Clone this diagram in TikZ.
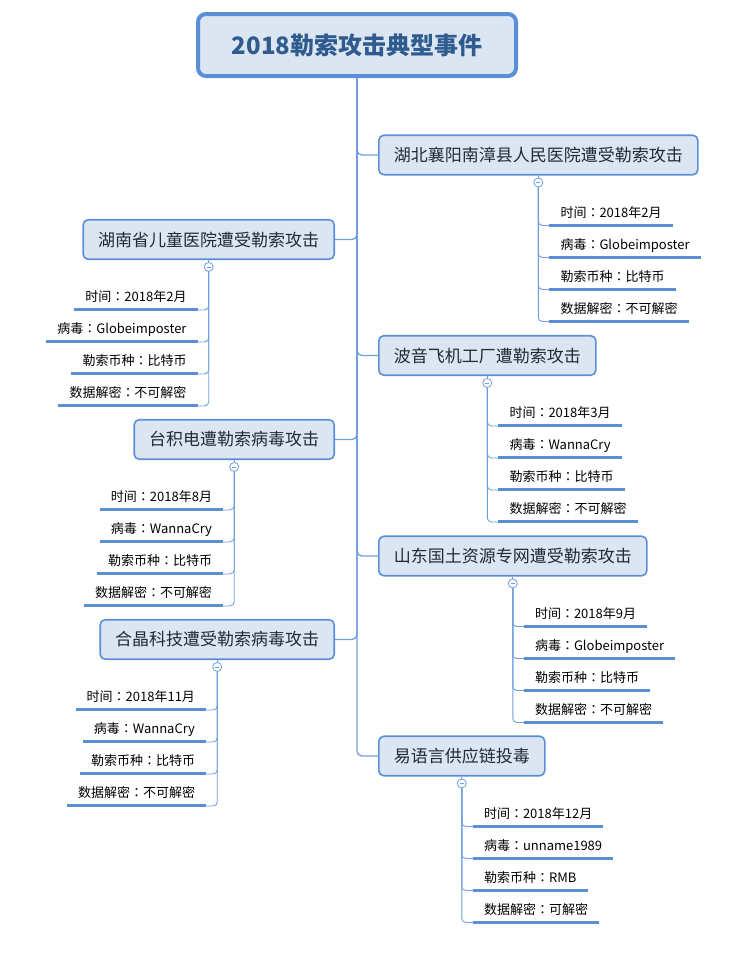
\documentclass[tikz,border=0pt]{standalone}
\usepackage{fontspec}
\setmainfont{Noto Sans CJK SC}
\newfontfamily\tcfont{Noto Sans CJK TC}
\newcommand\cln{{\tcfont ：}}
\usetikzlibrary{positioning}
\definecolor{boxline}{HTML}{5B8FD5}
\definecolor{boxfill}{HTML}{DCE6F2}
\definecolor{linec}{HTML}{6F9FDC}
\definecolor{roottext}{HTML}{2F5B8E}
\definecolor{branchtext}{HTML}{1F2B3A}

\begin{document}
\begin{tikzpicture}[x=1pt,y=-1pt,
  root/.style={draw=boxline,fill=boxfill,line width=4pt,rounded corners=8pt,minimum width=318pt,minimum height=62pt,font=\fontsize{24pt}{27pt}\selectfont\bfseries,text=roottext},
  branch/.style={draw=boxline,fill=boxfill,line width=1.6pt,rounded corners=5pt,minimum height=39.5pt,inner xsep=15pt,font=\fontsize{17pt}{20pt}\selectfont,text=branchtext},
  item/.style={inner xsep=11pt,inner ysep=0pt,text height=11pt,text depth=8pt,font=\fontsize{13pt}{15pt}\selectfont},
  fold/.style={circle,draw=linec,fill=white,line width=0.8pt,inner sep=0pt,minimum size=9pt,
    path picture={\draw[linec,line width=0.8pt] ([xshift=2.5pt]path picture bounding box.west) -- ([xshift=-2.5pt]path picture bounding box.east);}},
  trunk/.style={draw=linec,line width=1.3pt,rounded corners=5pt},
  link/.style={draw=linec,line width=0.9pt,rounded corners=4pt},
  uline/.style={draw=boxline,line width=3pt}]
\useasboundingbox (0,0) rectangle (738,978);
\node[root] (root) at (357,45) {2018勒索攻击典型事件};
% right side branches
\foreach \n/\by/\lbl/\tm/\vr/\cy/\dc in {
  1/155/湖北襄阳南漳县人民医院遭受勒索攻击/时间\cln 2018年2月/病毒\cln Globeimposter/勒索币种\cln 比特币/数据解密\cln 不可解密,
  2/355.5/波音飞机工厂遭勒索攻击/时间\cln 2018年3月/病毒\cln WannaCry/勒索币种\cln 比特币/数据解密\cln 不可解密,
  3/556/山东国土资源专网遭受勒索攻击/时间\cln 2018年9月/病毒\cln Globeimposter/勒索币种\cln 比特币/数据解密\cln 不可解密,
  4/756/易语言供应链投毒/时间\cln 2018年12月/病毒\cln unname1989/勒索币种\cln RMB/数据解密\cln 可解密}{
  \node[branch,anchor=west] (r\n) at (378,\by) {\lbl};
  \node[fold,below=2pt of r\n] (rf\n) {};
  \draw[trunk] (root.south) |- (r\n.west);
  \draw[link] (r\n.south) -- (rf\n.north);
  \foreach \m/\s [evaluate=\m as \dy using 43+32*(\m-1)] in {1/\tm,2/\vr,3/\cy,4/\dc}{
    \node[item,below right=\dy pt and 11pt of rf\n.center,anchor=south west] (r\n-\m) {\s};
    \draw[link] (rf\n.south) |- (r\n-\m.south west);
    \draw[uline] (r\n-\m.south west) -- (r\n-\m.south east);
  }
}
% left side branches
\foreach \n/\by/\lbl/\tm/\vr/\cy/\dc in {
  1/239.5/湖南省儿童医院遭受勒索攻击/时间\cln 2018年2月/病毒\cln Globeimposter/勒索币种\cln 比特币/数据解密\cln 不可解密,
  2/439.5/台积电遭勒索病毒攻击/时间\cln 2018年8月/病毒\cln WannaCry/勒索币种\cln 比特币/数据解密\cln 不可解密,
  3/639.5/合晶科技遭受勒索病毒攻击/时间\cln 2018年11月/病毒\cln WannaCry/勒索币种\cln 比特币/数据解密\cln 不可解密}{
  \node[branch,anchor=east] (l\n) at (335,\by) {\lbl};
  \node[fold,below=2pt of l\n] (lf\n) {};
  \draw[trunk] (root.south) |- (l\n.east);
  \draw[link] (l\n.south) -- (lf\n.north);
  \foreach \m/\s [evaluate=\m as \dy using 43+32*(\m-1)] in {1/\tm,2/\vr,3/\cy,4/\dc}{
    \node[item,below left=\dy pt and 11pt of lf\n.center,anchor=south east] (l\n-\m) {\s};
    \draw[link] (lf\n.south) |- (l\n-\m.south east);
    \draw[uline] (l\n-\m.south east) -- (l\n-\m.south west);
  }
}
\end{tikzpicture}
\end{document}
